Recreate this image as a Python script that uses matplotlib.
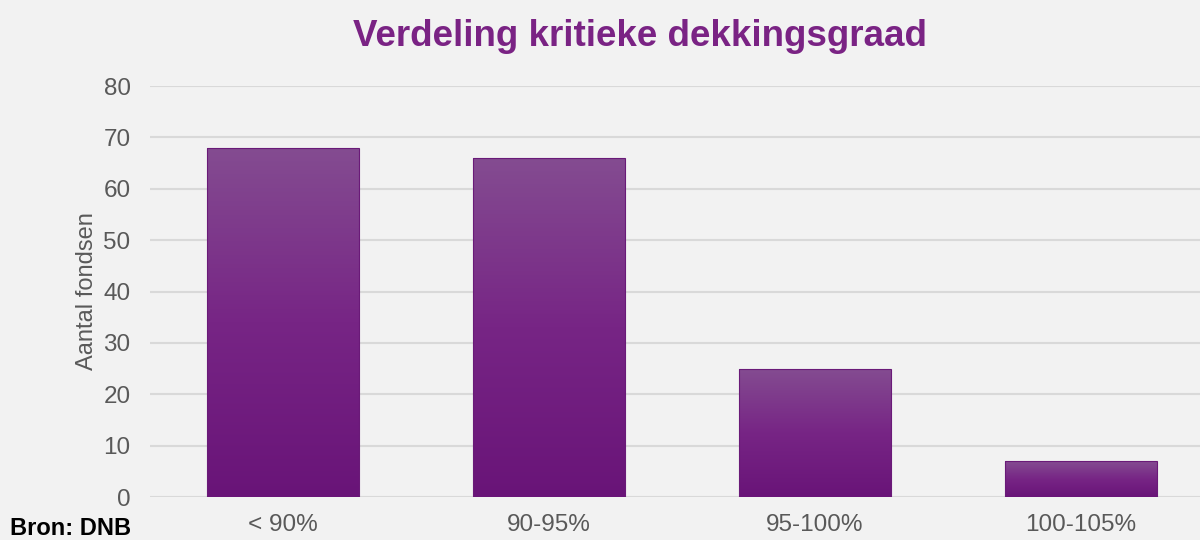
import numpy as np
import matplotlib.pyplot as plt
from matplotlib.colors import LinearSegmentedColormap

plt.rcParams['font.family'] = ['Liberation Sans', 'DejaVu Sans']

# data
categories = ['< 90%', '90-95%', '95-100%', '100-105%']
aantal = [68, 66, 25, 7]

bg = '#f2f2f2'
fig = plt.figure(figsize=(12, 5.4), dpi=100, facecolor=bg)
ax = fig.add_axes([0.125, 0.0796, 0.8867, 0.7611], facecolor=bg)

x = np.arange(len(categories))
bars = ax.bar(x, aantal, width=0.57, color='none', edgecolor='#6a1a78', linewidth=0.8, zorder=3)

# gradient fill per bar (lighter at top)
cmap = LinearSegmentedColormap.from_list('paars', ['#691478', '#772585', '#844c91'])
grad = np.linspace(0, 1, 256).reshape(-1, 1)
for b in bars:
    x0, w, h = b.get_x(), b.get_width(), b.get_height()
    im = ax.imshow(grad, cmap=cmap, origin='lower', aspect='auto',
                   extent=[x0, x0 + w, 0, h], zorder=2)
    im.set_clip_path(b)

ax.set_xlim(-0.5, len(categories) - 0.5)
ax.set_ylim(0, 80)
ax.set_yticks(range(0, 81, 10))
ax.set_xticks(x)
ax.set_xticklabels(categories)
ax.grid(axis='y', color='#d9d9d9', linewidth=1.5, zorder=0)
ax.set_axisbelow(True)
for s in ax.spines.values():
    s.set_visible(False)
ax.tick_params(length=0, labelsize=17.5, colors='#595959', pad=14)
ax.tick_params(axis='x', pad=12)
ax.set_ylabel('Aantal fondsen', fontsize=17, color='#595959', labelpad=4)

fig.text(0.533, 0.933, 'Verdeling kritieke dekkingsgraad', ha='center', va='center',
         fontsize=26.5, fontweight='bold', color='#7a2384')
fig.text(0.008, 0.022, 'Bron: DNB', ha='left', va='center',
         fontsize=17, fontweight='bold', color='black')

fig.savefig('out.png', dpi=100, facecolor=bg)
